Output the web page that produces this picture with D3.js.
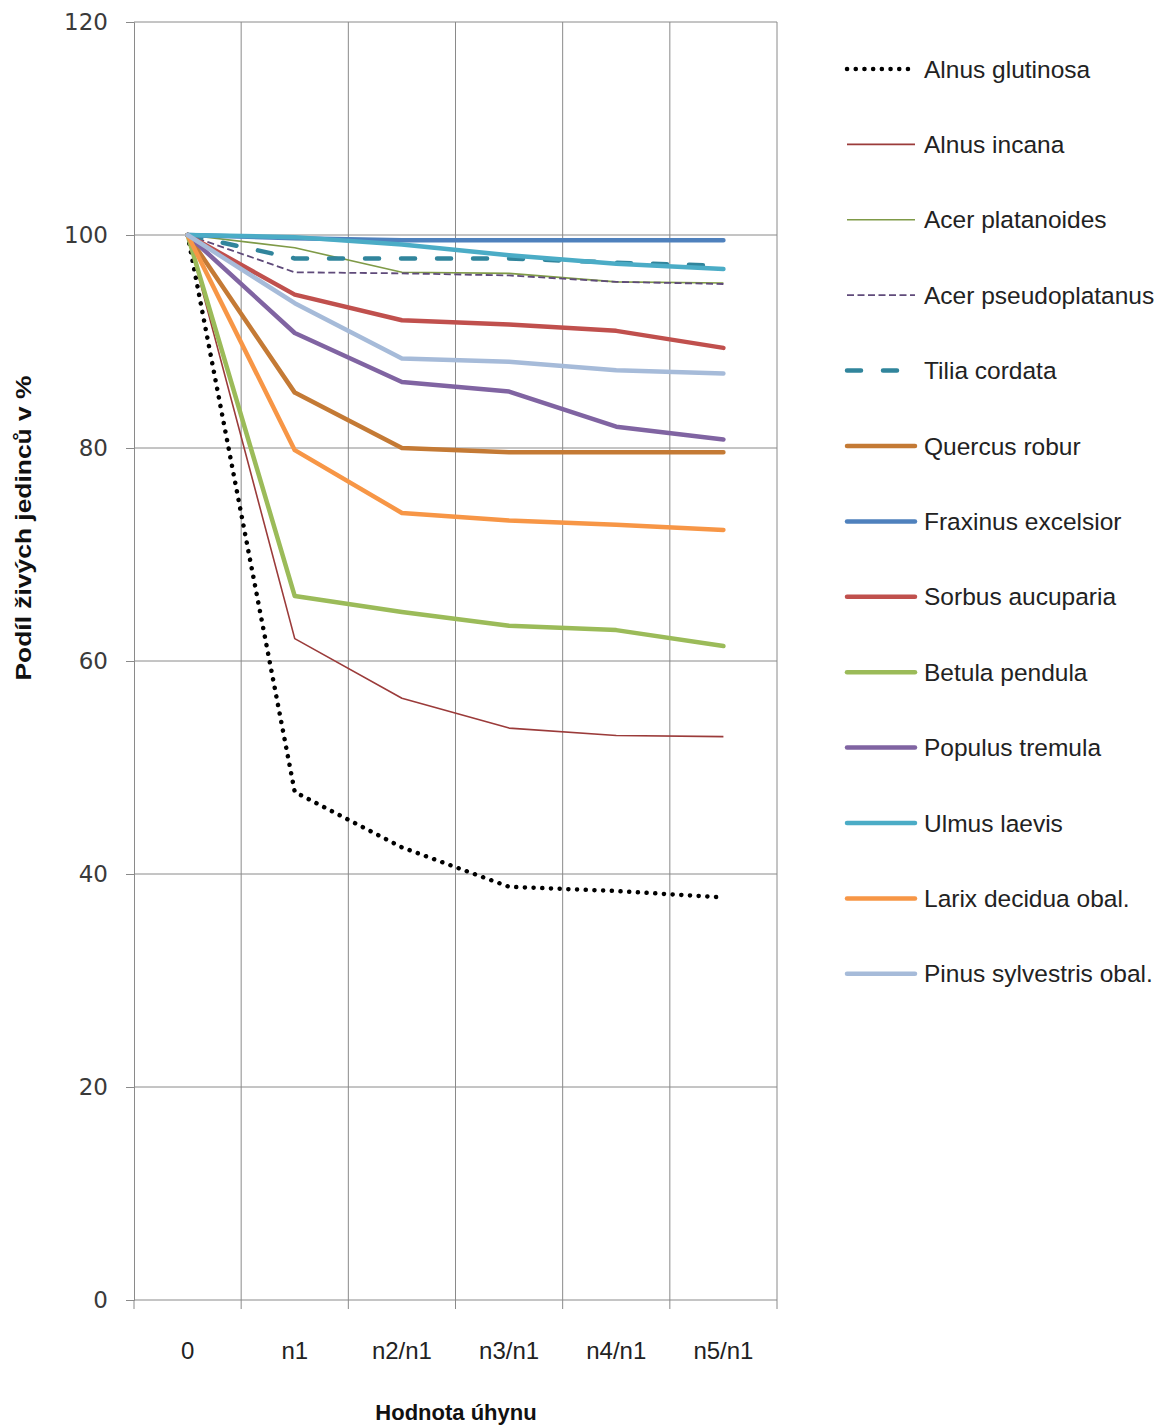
<html>
<head>
<meta charset="utf-8">
<script src="https://d3js.org/d3.v7.min.js"></script>
<style>
  body { margin: 0; background: #fff; }
</style>
</head>
<body>
<svg width="1169" height="1425" font-family="Liberation Sans, Arial, sans-serif"></svg>
<script>
// categories on the x axis
var categories = ["0", "n1", "n2/n1", "n3/n1", "n4/n1", "n5/n1"];
var yTicks = [0, 20, 40, 60, 80, 100, 120];

// series names (legend order) and values
var names = ["Alnus glutinosa", "Alnus incana", "Acer platanoides", "Acer pseudoplatanus",
  "Tilia cordata", "Quercus robur", "Fraxinus excelsior", "Sorbus aucuparia",
  "Betula pendula", "Populus tremula", "Ulmus laevis", "Larix decidua obal.",
  "Pinus sylvestris obal."];

var alnusGlutinosa   = [100, 47.7, 42.5, 38.8, 38.4, 37.8];
var alnusIncana      = [100, 62.1, 56.5, 53.7, 53.0, 52.9];
var acerPlatanoides  = [100, 98.8, 96.5, 96.4, 95.6, 95.5];
var acerPseudo       = [100, 96.5, 96.4, 96.2, 95.6, 95.4];
var tiliaCordata     = [100, 97.8, 97.8, 97.8, 97.4, 97.1];
var quercusRobur     = [100, 85.2, 80.0, 79.6, 79.6, 79.6];
var fraxinus         = [100, 99.7, 99.5, 99.5, 99.5, 99.5];
var sorbus           = [100, 94.4, 92.0, 91.6, 91.0, 89.4];
var betula           = [100, 66.1, 64.6, 63.3, 62.9, 61.4];
var populus          = [100, 90.8, 86.2, 85.3, 82.0, 80.8];
var ulmus            = [100, 99.8, 99.1, 98.1, 97.3, 96.8];
var larix            = [100, 79.8, 73.9, 73.2, 72.8, 72.3];
var pinus            = [100, 93.6, 88.4, 88.1, 87.3, 87.0];

var values = [alnusGlutinosa, alnusIncana, acerPlatanoides, acerPseudo, tiliaCordata,
  quercusRobur, fraxinus, sorbus, betula, populus, ulmus, larix, pinus];

var styles = [
  {color: "#000000", width: 4.5, dash: "0.1 8.6", cap: "round"},
  {color: "#9b3b3a", width: 1.6, dash: null, cap: "butt"},
  {color: "#7f9a47", width: 1.6, dash: null, cap: "butt"},
  {color: "#5f4a7a", width: 1.8, dash: "7 3.5", cap: "butt"},
  {color: "#31859c", width: 4.5, dash: "14 22", cap: "round"},
  {color: "#c47a35", width: 4.5, dash: null, cap: "round"},
  {color: "#4f81bd", width: 4.5, dash: null, cap: "round"},
  {color: "#c0504d", width: 4.5, dash: null, cap: "round"},
  {color: "#9bbb59", width: 4.5, dash: null, cap: "round"},
  {color: "#8064a2", width: 4.5, dash: null, cap: "round"},
  {color: "#4bacc6", width: 4.5, dash: null, cap: "round"},
  {color: "#f79646", width: 4.5, dash: null, cap: "round"},
  {color: "#a6bbd9", width: 4.5, dash: null, cap: "round"}
];

var svg = d3.select("svg");
var x = d3.scaleBand().domain(categories).range([134, 777]);
var y = d3.scaleLinear().domain([0, 120]).range([1300, 22]);
var cx = function(c) { return x(c) + x.bandwidth() / 2; };
var gridColor = "#8a8a8a";

// horizontal gridlines
svg.append("g").selectAll("line").data(yTicks.filter(function(d){ return d > 0; }))
  .enter().append("line")
  .attr("x1", 134).attr("x2", 777)
  .attr("y1", function(d){ return y(d); }).attr("y2", function(d){ return y(d); })
  .attr("stroke", gridColor).attr("stroke-width", 1);

// vertical gridlines at category boundaries
var bounds = categories.slice(1).map(function(c){ return x(c); }).concat([777]);
svg.append("g").selectAll("line").data(bounds).enter().append("line")
  .attr("x1", function(d){ return d; }).attr("x2", function(d){ return d; })
  .attr("y1", y(120)).attr("y2", y(0))
  .attr("stroke", gridColor).attr("stroke-width", 1);

// y axis
var yAxis = svg.append("g").attr("transform", "translate(134,0)")
  .call(d3.axisLeft(y).tickValues(yTicks).tickSize(8).tickPadding(18));
yAxis.select(".domain").attr("stroke", gridColor);
yAxis.selectAll(".tick line").attr("stroke", gridColor);
yAxis.selectAll(".tick text").style("font-family", "DejaVu Sans").style("font-size", "23px")
  .attr("fill", "#3a3a3a");

// x axis line + boundary ticks
svg.append("line").attr("x1", 134).attr("x2", 777).attr("y1", y(0)).attr("y2", y(0))
  .attr("stroke", gridColor);
svg.append("g").selectAll("line").data([134].concat(bounds)).enter().append("line")
  .attr("x1", function(d){ return d; }).attr("x2", function(d){ return d; })
  .attr("y1", y(0)).attr("y2", y(0) + 9)
  .attr("stroke", gridColor);
svg.append("g").selectAll("text").data(categories).enter().append("text")
  .attr("x", cx).attr("y", 1359)
  .attr("text-anchor", "middle").attr("font-size", 24).attr("fill", "#222")
  .text(function(d){ return d; });

// axis titles
svg.append("text").attr("x", 456).attr("y", 1420).attr("text-anchor", "middle")
  .attr("font-size", 22).attr("font-weight", "bold").attr("fill", "#111")
  .text("Hodnota úhynu");
svg.append("text").attr("transform", "translate(31,528) rotate(-90)")
  .attr("text-anchor", "middle").attr("font-size", 22).attr("font-weight", "bold")
  .attr("textLength", 305).attr("lengthAdjust", "spacingAndGlyphs")
  .attr("fill", "#111").text("Podíl živých jedinců v %");

// series lines
var line = d3.line()
  .x(function(d, i){ return cx(categories[i]); })
  .y(function(d){ return y(d); });

svg.append("g").selectAll("path").data(values).enter().append("path")
  .attr("d", line)
  .attr("fill", "none")
  .attr("stroke", function(d, i){ return styles[i].color; })
  .attr("stroke-width", function(d, i){ return styles[i].width; })
  .attr("stroke-dasharray", function(d, i){ return styles[i].dash; })
  .attr("stroke-linecap", function(d, i){ return styles[i].cap; })
  .attr("stroke-linejoin", "round");

// legend
var leg = svg.append("g").selectAll("g").data(names).enter().append("g")
  .attr("transform", function(d, i){ return "translate(0," + (69 + i * 75.4) + ")"; });
leg.append("line").attr("x1", 847).attr("x2", 915).attr("y1", 0).attr("y2", 0)
  .attr("stroke", function(d, i){ return styles[i].color; })
  .attr("stroke-width", function(d, i){ return styles[i].width; })
  .attr("stroke-dasharray", function(d, i){ return styles[i].dash; })
  .attr("stroke-linecap", function(d, i){ return styles[i].cap; });
leg.append("text").attr("x", 924).attr("y", 0).attr("dy", "0.35em")
  .attr("font-size", 24.5).attr("fill", "#222")
  .text(function(d){ return d; });
</script>
</body>
</html>
